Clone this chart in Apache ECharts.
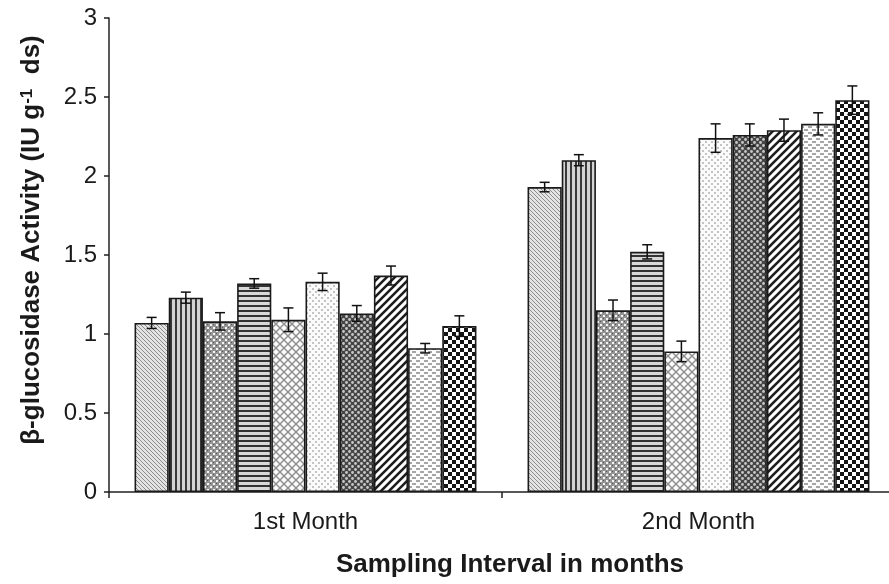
<!DOCTYPE html>
<html>
<head>
<meta charset="utf-8">
<script src="https://cdn.jsdelivr.net/npm/echarts@6/dist/echarts.min.js"></script>
<style>
  html, body { margin: 0; padding: 0; background: #fff; }
  #chart { width: 889px; height: 584px; }
</style>
</head>
<body>
<div id="chart"></div>
<script>
// Sampling intervals on the x axis
const categories = ['1st Month', '2nd Month'];

// beta-glucosidase activity per treatment (IU g-1 ds), one array per treatment: [1st month, 2nd month]
const t1 = [1.07, 1.93];
const t2 = [1.23, 2.10];
const t3 = [1.08, 1.15];
const t4 = [1.32, 1.52];
const t5 = [1.09, 0.89];
const t6 = [1.33, 2.24];
const t7 = [1.13, 2.26];
const t8 = [1.37, 2.29];
const t9 = [0.91, 2.33];
const t10 = [1.05, 2.48];

// standard errors, same order
const e1 = [0.035, 0.03];
const e2 = [0.035, 0.035];
const e3 = [0.055, 0.065];
const e4 = [0.03, 0.045];
const e5 = [0.075, 0.065];
const e6 = [0.055, 0.09];
const e7 = [0.05, 0.07];
const e8 = [0.06, 0.07];
const e9 = [0.03, 0.07];
const e10 = [0.065, 0.09];

const values = [t1, t2, t3, t4, t5, t6, t7, t8, t9, t10];
const errors = [e1, e2, e3, e4, e5, e6, e7, e8, e9, e10];

// y axis range
const yMin = 0, yMax = 3, yStep = 0.5;

// ---- fill patterns drawn on small tiles ----
function tile(w, h, bg, draw) {
  const c = document.createElement('canvas');
  c.width = w; c.height = h;
  const g = c.getContext('2d');
  g.fillStyle = bg; g.fillRect(0, 0, w, h);
  draw(g, w, h);
  return c;
}
function diag(s, bg, fg, lw, dir) {
  return tile(s, s, bg, (g) => {
    g.strokeStyle = fg; g.lineWidth = lw; g.lineCap = 'square';
    g.beginPath();
    if (dir > 0) { // "/"
      g.moveTo(0, s); g.lineTo(s, 0);
      g.moveTo(-1, 1); g.lineTo(1, -1);
      g.moveTo(s - 1, s + 1); g.lineTo(s + 1, s - 1);
    } else {        // "\"
      g.moveTo(0, 0); g.lineTo(s, s);
      g.moveTo(-1, s - 1); g.lineTo(1, s + 1);
      g.moveTo(s - 1, -1); g.lineTo(s + 1, 1);
    }
    g.stroke();
  });
}
const patterns = [
  // fine light hatching
  diag(4, '#e4e4e4', '#8c8c8c', 1, -1),
  // vertical stripes
  tile(5, 5, '#d4d4d4', (g) => { g.fillStyle = '#3a3a3a'; g.fillRect(0, 0, 2, 5); }),
  // speckled grey
  tile(6, 6, '#949494', (g) => {
    g.fillStyle = '#f4f4f4';
    g.fillRect(0, 0, 2, 2); g.fillRect(3, 3, 2, 2);
    g.fillStyle = '#555';
    g.fillRect(3, 0, 1, 1); g.fillRect(0, 3, 1, 1);
  }),
  // horizontal stripes
  tile(5, 5, '#d8d8d8', (g) => { g.fillStyle = '#333'; g.fillRect(0, 0, 5, 2); }),
  // open lattice
  tile(8, 8, '#fafafa', (g) => {
    g.strokeStyle = '#8e8e8e'; g.lineWidth = 1.4;
    g.beginPath();
    g.moveTo(0, 0); g.lineTo(8, 8); g.moveTo(0, 8); g.lineTo(8, 0);
    g.stroke();
  }),
  // faint dots
  tile(6, 6, '#fbfbfb', (g) => {
    g.fillStyle = '#c4c4c4';
    g.fillRect(0, 0, 2, 2); g.fillRect(3, 3, 2, 2);
  }),
  // dark with light rings
  tile(6, 6, '#454545', (g) => {
    g.fillStyle = '#c8c8c8';
    g.beginPath(); g.arc(1.5, 1.5, 1.4, 0, Math.PI * 2); g.fill();
    g.beginPath(); g.arc(4.5, 4.5, 1.4, 0, Math.PI * 2); g.fill();
  }),
  // bold forward hatching
  diag(8, '#ffffff', '#1e1e1e', 2.6, 1),
  // dashes
  tile(8, 6, '#fcfcfc', (g) => {
    g.fillStyle = '#a6a6a6';
    g.fillRect(0, 0, 4, 2); g.fillRect(4, 3, 4, 2);
  }),
  // checkerboard
  tile(8, 8, '#ffffff', (g) => {
    g.fillStyle = '#151515';
    g.fillRect(0, 0, 4, 4); g.fillRect(4, 4, 4, 4);
  })
];

const categoryGap = 0.13;
const nSeries = values.length;

const barSeries = values.map((v, i) => ({
  name: 'T' + (i + 1),
  type: 'bar',
  data: v,
  barGap: '0%',
  barCategoryGap: (categoryGap * 100) + '%',
  itemStyle: {
    color: { image: patterns[i], repeat: 'repeat' },
    borderColor: '#1a1a1a',
    borderWidth: 1.6
  },
  emphasis: { disabled: true }
}));

// error bars placed on the same slots the grouped bars use
const errorSeries = values.map((v, i) => ({
  type: 'custom',
  z: 5,
  silent: true,
  data: v.map((val, c) => [c, val, errors[i][c]]),
  renderItem: function (params, api) {
    const c = api.value(0), val = api.value(1), err = api.value(2);
    const band = api.size([1, 0])[0];
    const bw = band * (1 - categoryGap) / nSeries;
    const cx = api.coord([c, val])[0] - band * (1 - categoryGap) / 2 + bw * (i + 0.5);
    const yHi = api.coord([c, val + err])[1];
    const yLo = api.coord([c, val - err])[1];
    const cap = 5;
    const style = { stroke: '#111', lineWidth: 1.5, fill: null };
    return {
      type: 'group',
      children: [
        { type: 'line', shape: { x1: cx, y1: yHi, x2: cx, y2: yLo }, style },
        { type: 'line', shape: { x1: cx - cap, y1: yHi, x2: cx + cap, y2: yHi }, style },
        { type: 'line', shape: { x1: cx - cap, y1: yLo, x2: cx + cap, y2: yLo }, style }
      ]
    };
  }
}));

const chart = echarts.init(document.getElementById('chart'), null, { renderer: 'canvas' });
const font = '"Liberation Sans", Arial, Helvetica, sans-serif';

chart.setOption({
  animation: false,
  backgroundColor: '#ffffff',
  textStyle: { fontFamily: font },
  grid: { left: 109, top: 18, width: 786, bottom: 92, outerBoundsMode: 'none' },
  xAxis: {
    type: 'category',
    data: categories,
    name: 'Sampling Interval in months',
    nameLocation: 'middle',
    nameGap: 60,
    nameTextStyle: {
      fontFamily: font, fontSize: 26, fontWeight: 'bold', color: '#1a1a1a',
      padding: [0, 0, 0, 16]
    },
    axisLine: { lineStyle: { color: '#222', width: 1.5 } },
    axisTick: { show: true, alignWithLabel: false, length: 6, lineStyle: { color: '#222', width: 1.5 } },
    axisLabel: { fontFamily: font, fontSize: 24, color: '#1a1a1a', margin: 18 }
  },
  yAxis: {
    type: 'value',
    min: yMin, max: yMax, interval: yStep,
    name: '{t|β-glucosidase Activity (IU g}{s|-1}{t|  ds)}',
    nameLocation: 'middle',
    nameGap: 64,
    nameTextStyle: {
      fontFamily: font, fontWeight: 'bold', color: '#1a1a1a',
      padding: [0, 0, 0, 30],
      rich: {
        t: { fontFamily: font, fontSize: 26, fontWeight: 'bold', color: '#1a1a1a' },
        s: { fontFamily: font, fontSize: 17, fontWeight: 'bold', color: '#1a1a1a', verticalAlign: 'top' }
      }
    },
    axisLine: { show: true, lineStyle: { color: '#222', width: 1.5 } },
    axisTick: { show: true, length: 5, lineStyle: { color: '#222', width: 1.5 } },
    splitLine: { show: false },
    axisLabel: { fontFamily: font, fontSize: 24, color: '#1a1a1a', margin: 12 }
  },
  series: barSeries.concat(errorSeries)
});
</script>
</body>
</html>
